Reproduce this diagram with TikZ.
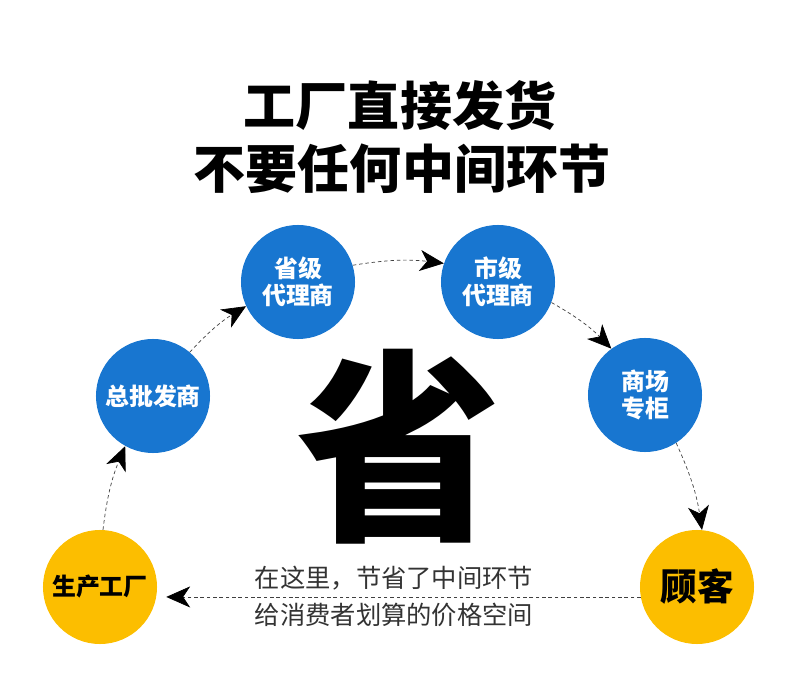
\documentclass[tikz,border=0pt]{standalone}
\usepackage{fontspec}
\newfontfamily\cjk{Noto Sans CJK SC}
\usetikzlibrary{arrows.meta}
\definecolor{stageblue}{RGB}{24,118,208}
\definecolor{stagegold}{RGB}{252,190,0}

\begin{document}
\begin{tikzpicture}[x=0.025cm, y=-0.025cm,
  stage/.style={circle, inner sep=0pt, minimum size=2.85cm, align=center, font=\cjk\bfseries\fontsize{17}{19.5}\selectfont},
  bluestage/.style={stage, fill=stageblue, text=white},
  goldstage/.style={stage, fill=stagegold, text=black},
  flow/.style={draw=black!75, line width=0.5pt, dash pattern=on 2.5pt off 2pt, -{Stealth[length=17pt, width=15pt, inset=5pt, black]}}]
\useasboundingbox (0,0) rectangle (790,675);

% Title
\node[font=\cjk\bfseries\fontsize{37}{44}\selectfont] (title1) at (400,106) {工厂直接发货};
\node[font=\cjk\bfseries\fontsize{37}{44}\selectfont] (title2) at (402,169) {不要任何中间环节};

% Big character
\node[font=\cjk\bfseries\fontsize{146}{150}\selectfont] (save) at (399,447) {省};

% Stages
\node[goldstage] (factory) at (100,587) {生产工厂};
\node[bluestage] (wholesale) at (153,396) {总批发商};
\node[bluestage] (province) at (298,282) {省级\\代理商};
\node[bluestage] (city) at (498,282) {市级\\代理商};
\node[bluestage] (mall) at (645,395) {商场\\专柜};
\node[goldstage, font=\cjk\bfseries\fontsize{26}{30}\selectfont] (buyer) at (697,587) {顾客};

\draw[flow] (factory.87) to[bend left=8] (wholesale.241);
\draw[flow] (wholesale.50) to[bend left=8] (province.205);
\draw[flow] (province.17) to[bend left=8] (city.161);
\draw[flow] (city.-21) to[bend left=8] (mall.126);
\draw[flow] (mall.-57) to[bend left=8] (buyer.85);

% Saving note
\draw[flow, shorten >=7pt] (buyer.190) -- (factory.-10);
\node[font=\cjk\fontsize{18}{20}\selectfont, text=black!80] (note1) at (394,578) {在这里，节省了中间环节};
\node[font=\cjk\fontsize{18}{20}\selectfont, text=black!80] (note2) at (394,615) {给消费者划算的价格空间};

\end{tikzpicture}
\end{document}
